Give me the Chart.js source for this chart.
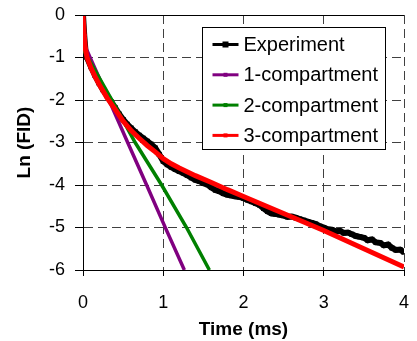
<!DOCTYPE html>
<html>
<head>
<meta charset="utf-8">
<script src="https://cdn.jsdelivr.net/npm/chart.js@4.4.1/dist/chart.umd.min.js"></script>
<style>
  html, body { margin: 0; padding: 0; background: #fff; }
  #wrap { width: 417px; height: 341px; position: relative; }
</style>
</head>
<body>
<div id="wrap"><canvas id="chart"></canvas></div>
<script>
const FONT = '"Liberation Sans", Arial, Helvetica, sans-serif'

// Experiment (measured FID, log scale)
const expTime = [
  0, 0.016, 0.03, 0.05, 0.1, 0.15, 0.2, 0.25, 0.3, 0.35, 0.4, 0.45, 0.5,
  0.55, 0.6, 0.65, 0.7, 0.75, 0.8, 0.85, 0.9, 0.95, 1.0, 1.05, 1.1, 1.15,
  1.2, 1.25, 1.3, 1.35, 1.4, 1.45, 1.5, 1.55, 1.6, 1.65, 1.7, 1.75, 1.8,
  1.85, 1.9, 1.95, 2.0, 2.05, 2.1, 2.15, 2.2, 2.25, 2.3, 2.35, 2.4, 2.45,
  2.5, 2.55, 2.6, 2.65, 2.7, 2.75, 2.8, 2.85, 2.9, 2.95, 3.0, 3.05, 3.1,
  3.15, 3.2, 3.25, 3.3, 3.35, 3.4, 3.45, 3.5, 3.55, 3.6, 3.65, 3.7, 3.75,
  3.8, 3.85, 3.9, 3.95, 4.0
]
const expLnFid = [
  0, -0.5, -0.82, -1.0, -1.22, -1.42, -1.6, -1.76, -1.9, -2.04, -2.18, -2.33, -2.46,
  -2.57, -2.66, -2.75, -2.83, -2.9, -2.97, -3.04, -3.13, -3.28, -3.44, -3.52, -3.58, -3.63,
  -3.68, -3.72, -3.77, -3.83, -3.88, -3.91, -3.96, -3.99, -4.06, -4.12, -4.15, -4.2, -4.23,
  -4.25, -4.27, -4.28, -4.31, -4.35, -4.39, -4.43, -4.47, -4.55, -4.62, -4.67, -4.68, -4.7,
  -4.72, -4.75, -4.74, -4.77, -4.8, -4.83, -4.86, -4.89, -4.92, -4.97, -5.0, -5.04, -5.05,
  -5.09, -5.08, -5.13, -5.12, -5.16, -5.2, -5.22, -5.24, -5.3, -5.28, -5.35, -5.36, -5.42,
  -5.4, -5.48, -5.53, -5.52, -5.58
]

// Model fits
const oneCompTime = [0, 0.31, 0.55, 0.79, 1.03, 1.263]
const oneCompLnFid = [-0.62, -1.94, -2.97, -3.99, -5.02, -6.0]

const twoCompTime = [0, 0.36, 0.65, 0.98, 1.29, 1.575]
const twoCompLnFid = [-0.8, -2.0, -3.0, -4.0, -5.0, -6.0]

const threeCompTime = [
  0, 0.016, 0.03, 0.05, 0.1, 0.15, 0.2, 0.3, 0.4, 0.5, 0.6, 0.7, 0.8, 0.9,
  1.0, 1.1, 1.2, 1.4, 1.6, 1.8, 2.0, 2.5, 3.0, 3.5, 4.0
]
const threeCompLnFid = [
  0, -0.5, -0.8, -1.0, -1.25, -1.45, -1.63, -1.95, -2.22, -2.5, -2.72, -2.9, -3.07, -3.22,
  -3.38, -3.5, -3.6, -3.78, -3.94, -4.11, -4.27, -4.67, -5.07, -5.5, -5.93
]

const seriesNames = ["Experiment", "1-compartment", "2-compartment", "3-compartment"]
const xTickValues = [0, 1, 2, 3, 4]
const yTickValues = [0, -1, -2, -3, -4, -5, -6]

const toPoints = (xs, ys) => xs.map((x, i) => ({ x: x, y: ys[i] }))

// legend drawn inside the plot, Excel style (white box, line + marker)
const boxLegend = {
  id: "boxLegend",
  afterDraw(chart) {
    const ctx = chart.ctx
    const area = chart.chartArea
    ctx.save()

    // solid top edge of the plot area
    ctx.strokeStyle = "#000"
    ctx.lineWidth = 1
    ctx.beginPath()
    ctx.moveTo(area.left, Math.round(area.top) + 0.5)
    ctx.lineTo(area.right, Math.round(area.top) + 0.5)
    ctx.stroke()

    const bx = Math.round(area.left) + 119.5
    const by = Math.round(area.top) + 12.5
    const bw = 183
    const bh = 122
    ctx.fillStyle = "#fff"
    ctx.fillRect(bx, by, bw, bh)
    ctx.strokeRect(bx, by, bw, bh)

    ctx.font = "20px " + FONT
    ctx.textBaseline = "middle"
    ctx.textAlign = "left"
    chart.data.datasets.forEach((ds, i) => {
      const y = by + 17 + i * 30.3
      ctx.strokeStyle = ds.borderColor
      ctx.lineWidth = 3
      ctx.beginPath()
      ctx.moveTo(bx + 10, y)
      ctx.lineTo(bx + 36, y)
      ctx.stroke()
      const s = i === 0 ? 6 : 4
      ctx.fillStyle = ds.borderColor
      ctx.fillRect(bx + 23 - s / 2, y - s / 2, s, s)
      ctx.fillStyle = "#000"
      ctx.fillText(ds.label, bx + 41, y + 1)
    })
    ctx.restore()
  }
}

new Chart(document.getElementById("chart"), {
  type: "line",
  data: {
    datasets: [
      {
        label: seriesNames[0],
        data: toPoints(expTime, expLnFid),
        borderColor: "#000",
        backgroundColor: "#000",
        borderWidth: 6,
        pointStyle: "rect",
        pointRadius: 3.6,
        pointBorderWidth: 0,
        order: 4
      },
      {
        label: seriesNames[1],
        data: toPoints(oneCompTime, oneCompLnFid),
        borderColor: "#800080",
        backgroundColor: "#800080",
        borderWidth: 3.5,
        pointRadius: 0,
        order: 3
      },
      {
        label: seriesNames[2],
        data: toPoints(twoCompTime, twoCompLnFid),
        borderColor: "#008000",
        backgroundColor: "#008000",
        borderWidth: 3.5,
        pointRadius: 0,
        order: 2
      },
      {
        label: seriesNames[3],
        data: toPoints(threeCompTime, threeCompLnFid),
        borderColor: "#ff0000",
        backgroundColor: "#ff0000",
        borderWidth: 5,
        pointStyle: "rect",
        pointRadius: (c) => (c.dataIndex < 2 ? 3.2 : 0),
        pointBorderWidth: 0,
        order: 1
      }
    ]
  },
  options: {
    responsive: true,
    maintainAspectRatio: false,
    animation: false,
    layout: {
      padding: 0
    },
    plugins: {
      legend: { display: false },
      tooltip: { enabled: false }
    },
    scales: {
      x: {
        type: "linear",
        min: 0,
        max: 4,
        afterBuildTicks: (scale) => { scale.ticks = xTickValues.map((v) => ({ value: v })) },
        afterFit: (scale) => {
          scale.height = 71
          scale.paddingLeft = 0
          scale.paddingRight = 13
        },
        ticks: {
          color: "#000",
          padding: 16,
          font: { family: FONT, size: 18 }
        },
        grid: {
          color: "#404040",
          lineWidth: 1,
          tickLength: 6,
          tickColor: "#000"
        },
        border: {
          color: "#000",
          width: 1,
          dash: [9, 5]
        },
        title: {
          display: true,
          text: "Time (ms)",
          color: "#000",
          padding: { top: 3, bottom: 0 },
          font: { family: FONT, size: 19, weight: "bold" }
        }
      },
      y: {
        min: -6,
        max: 0,
        afterBuildTicks: (scale) => { scale.ticks = yTickValues.map((v) => ({ value: v })) },
        afterFit: (scale) => {
          scale.width = 83
          scale.paddingTop = 15
          scale.paddingBottom = 0
        },
        ticks: {
          color: "#000",
          padding: 10,
          font: { family: FONT, size: 18 }
        },
        grid: {
          color: "#404040",
          lineWidth: 1,
          tickLength: 8,
          tickColor: "#000"
        },
        border: {
          color: "#000",
          width: 1,
          dash: [9, 5]
        },
        title: {
          display: true,
          text: "Ln (FID)",
          color: "#000",
          padding: { top: 13, bottom: 0 },
          font: { family: FONT, size: 19, weight: "bold" }
        }
      }
    }
  },
  plugins: [boxLegend]
})
</script>
</body>
</html>
